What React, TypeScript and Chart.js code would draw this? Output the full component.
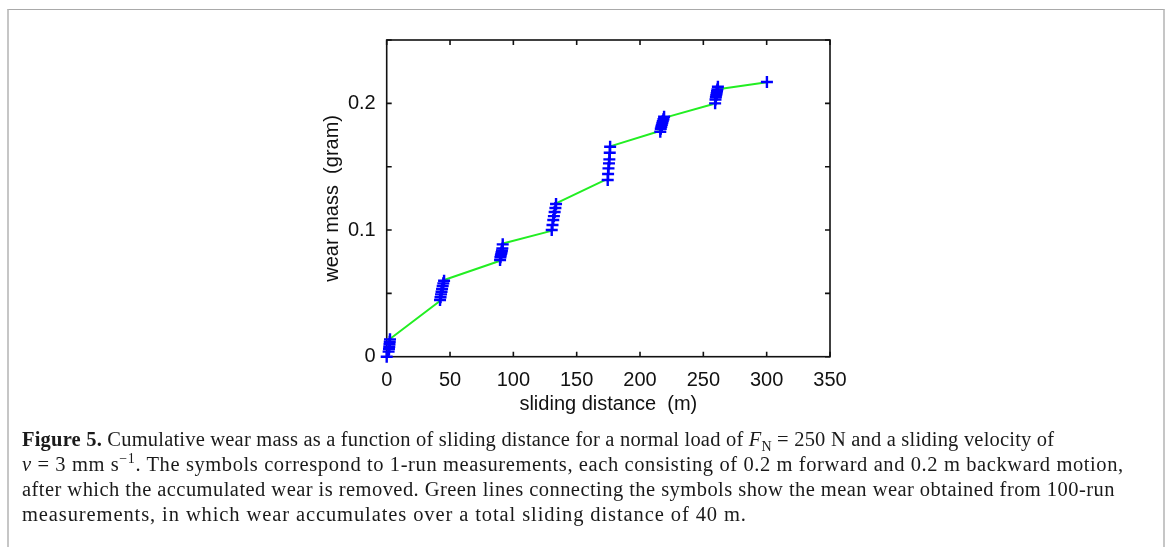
import React, { useEffect, useRef } from "react";
import { Chart, registerables } from "chart.js";

Chart.register(...registerables);

// 1-run measurements (blue +)
const markerDistance = [
  0, 1.5, 1.8, 2.0, 2.2, 2.4, 2.6,
  42.1, 42.5, 42.9, 43.3, 43.7, 44.2, 44.7, 45.3,
  89.5, 89.8, 90.1, 90.4, 90.7, 91.0, 91.3, 91.6,
  130.3, 130.9, 131.5, 132.0, 132.6, 133.2, 133.7,
  174.5, 174.8, 175.1, 175.5, 175.8, 176.1, 176.4,
  216.0, 216.4, 216.8, 217.2, 217.6, 218.0, 218.5, 219.0,
  259.3, 259.6, 259.9, 260.2, 260.5, 260.8, 261.1, 261.5,
  300.2,
];
const markerWear = [
  0.0, 0.004, 0.0061, 0.0079, 0.0098, 0.0118, 0.0137,
  0.0447, 0.0469, 0.0492, 0.0513, 0.0534, 0.0558, 0.0579, 0.06,
  0.0763, 0.0785, 0.08, 0.0812, 0.0825, 0.0838, 0.0855, 0.0887,
  0.1, 0.104, 0.1079, 0.111, 0.1142, 0.1174, 0.1205,
  0.1395, 0.1442, 0.1487, 0.1526, 0.1558, 0.161, 0.1657,
  0.1776, 0.18, 0.1815, 0.183, 0.1845, 0.186, 0.1875, 0.1894,
  0.2, 0.203, 0.205, 0.2065, 0.208, 0.2095, 0.211, 0.2131,
  0.2168,
];

// 100-run mean wear (green segments)
const meanStartDistance = [2.5, 45.3, 92.5, 133.7, 176.4, 219.0, 261.5];
const meanStartWear = [0.014, 0.0605, 0.0895, 0.121, 0.166, 0.1885, 0.2112];
const meanEndDistance = [42.0, 89.0, 130.0, 173.0, 215.0, 258.0, 300.2];
const meanEndWear = [0.044, 0.0755, 0.0993, 0.1398, 0.178, 0.1995, 0.2166];

const xTickValues = [0, 50, 100, 150, 200, 250, 300, 350];
const yTickValues = [0, 0.05, 0.1, 0.15, 0.2, 0.25];
const yLabelValues = [0, 0.1, 0.2];

const xTitle = "sliding distance  (m)";
const yTitle = "wear mass  (gram)";

const AXIS_FONT = "'Liberation Sans', Arial, Helvetica, sans-serif";
const SERIF = "'Liberation Serif', 'Times New Roman', serif";

const framePlugin = {
  id: "frameTicks",
  beforeDatasetsDraw(chart: any) {
    const { ctx, chartArea, scales } = chart;
    const { left, right, top, bottom } = chartArea;
    const x = scales.x;
    const y = scales.y;
    ctx.save();
    ctx.strokeStyle = "#111";
    ctx.lineWidth = 1.6;
    ctx.strokeRect(left, top, right - left, bottom - top);
    const len = 5;
    ctx.beginPath();
    for (const v of xTickValues) {
      const px = x.getPixelForValue(v);
      ctx.moveTo(px, bottom);
      ctx.lineTo(px, bottom - len);
      ctx.moveTo(px, top);
      ctx.lineTo(px, top + len);
    }
    for (const v of yTickValues) {
      const py = y.getPixelForValue(v);
      ctx.moveTo(left, py);
      ctx.lineTo(left + len, py);
      ctx.moveTo(right, py);
      ctx.lineTo(right - len, py);
    }
    ctx.stroke();
    ctx.restore();
  },
};

const CANVAS_W = 1170;
const CANVAS_H = 430;
const AREA_LEFT = 386.7;
const AREA_RIGHT = 830;
const AREA_TOP = 40;
const AREA_BOTTOM = 356.7;

function ChartCanvas() {
  const ref = useRef<HTMLCanvasElement | null>(null);
  useEffect(() => {
    if (!ref.current) return;
    const markers = markerDistance.map((d, i) => ({ x: d, y: markerWear[i] }));
    const meanLine: any[] = [];
    meanStartDistance.forEach((d, i) => {
      meanLine.push({ x: d, y: meanStartWear[i] });
      meanLine.push({ x: meanEndDistance[i], y: meanEndWear[i] });
      meanLine.push({ x: meanEndDistance[i], y: null });
    });
    const chart = new Chart(ref.current, {
      type: "scatter",
      data: {
        datasets: [
          {
            label: "1-run",
            data: markers,
            pointStyle: "cross",
            pointRadius: 6,
            pointBorderWidth: 2.4,
            borderColor: "#0000ff",
            backgroundColor: "#0000ff",
            showLine: false,
            clip: false as any,
            order: 0,
          },
          {
            label: "100-run mean",
            data: meanLine,
            showLine: true,
            spanGaps: false,
            borderColor: "#22ee22",
            borderWidth: 2,
            pointRadius: 0,
            clip: false as any,
            order: 1,
          },
        ],
      },
      options: {
        animation: false,
        responsive: false,
        events: [],
        layout: { padding: { left: 0, top: AREA_TOP, right: CANVAS_W - AREA_RIGHT, bottom: 0 } },
        plugins: { legend: { display: false }, tooltip: { enabled: false } },
        scales: {
          x: {
            type: "linear",
            min: 0,
            max: 350,
            grid: { display: false, drawTicks: false },
            border: { display: false },
            afterBuildTicks: (s: any) => {
              s.ticks = xTickValues.map((v) => ({ value: v }));
            },
            afterFit: (s: any) => {
              s.height = CANVAS_H - AREA_BOTTOM;
            },
            ticks: {
              padding: 12,
              color: "#111",
              maxRotation: 0,
              font: { family: AXIS_FONT, size: 20 },
              callback: (v: any) => String(v),
            },
            title: {
              display: true,
              text: xTitle,
              color: "#111",
              font: { family: AXIS_FONT, size: 20 },
              padding: { top: 0, bottom: 14 },
            },
          },
          y: {
            type: "linear",
            min: 0,
            max: 0.25,
            grid: { display: false, drawTicks: false },
            border: { display: false },
            afterBuildTicks: (s: any) => {
              s.ticks = yTickValues.map((v) => ({ value: v }));
            },
            afterFit: (s: any) => {
              s.width = AREA_LEFT;
            },
            ticks: {
              padding: 11,
              color: "#111",
              font: { family: AXIS_FONT, size: 20 },
              callback: (v: any) =>
                yLabelValues.some((l) => Math.abs(l - v) < 1e-9) ? String(Math.round(v * 10) / 10) : "",
            },
            title: {
              display: true,
              text: yTitle,
              color: "#111",
              font: { family: AXIS_FONT, size: 20 },
              padding: { top: 320, bottom: 0 },
            },
          },
        },
      },
      plugins: [framePlugin],
    } as any);
    return () => chart.destroy();
  }, []);
  return (
    <canvas
      ref={ref}
      width={CANVAS_W}
      height={CANVAS_H}
      style={{ position: "absolute", left: 0, top: 0, width: CANVAS_W, height: CANVAS_H }}
    />
  );
}

const captionStyle: React.CSSProperties = {
  position: "absolute",
  left: 22,
  whiteSpace: "nowrap",
  fontFamily: SERIF,
  fontSize: 20.5,
  lineHeight: "25px",
  color: "#1a1a1a",
};

export default function App() {
  return (
    <div style={{ position: "fixed", left: 0, top: 0, width: 1170, height: 547, background: "#fff", overflow: "hidden" }}>
      <div
        style={{
          position: "absolute",
          left: 7,
          top: 9,
          width: 1154,
          height: 600,
          borderTop: "1.5px solid #a9a9a9",
          borderLeft: "2px solid #c6c6c6",
          borderRight: "2px solid #c6c6c6",
        }}
      />
      <ChartCanvas />
      <div style={{ ...captionStyle, top: 427, letterSpacing: "0.2px" }}>
        <b>Figure 5.</b> Cumulative wear mass as a function of sliding distance for a normal load of <i>F</i>
        <sub style={{ fontSize: 14, lineHeight: 0 }}>N</sub> = 250 N and a sliding velocity of
      </div>
      <div style={{ ...captionStyle, top: 452, letterSpacing: "0.6px" }}>
        <i>v</i> = 3 mm s<sup style={{ fontSize: 14, lineHeight: 0 }}>−1</sup>. The symbols correspond to 1-run
        measurements, each consisting of 0.2 m forward and 0.2 m backward motion,
      </div>
      <div style={{ ...captionStyle, top: 477, letterSpacing: "0.45px" }}>
        after which the accumulated wear is removed. Green lines connecting the symbols show the mean wear obtained from
        100-run
      </div>
      <div style={{ ...captionStyle, top: 502, letterSpacing: "0.9px" }}>
        measurements, in which wear accumulates over a total sliding distance of 40 m.
      </div>
    </div>
  );
}
